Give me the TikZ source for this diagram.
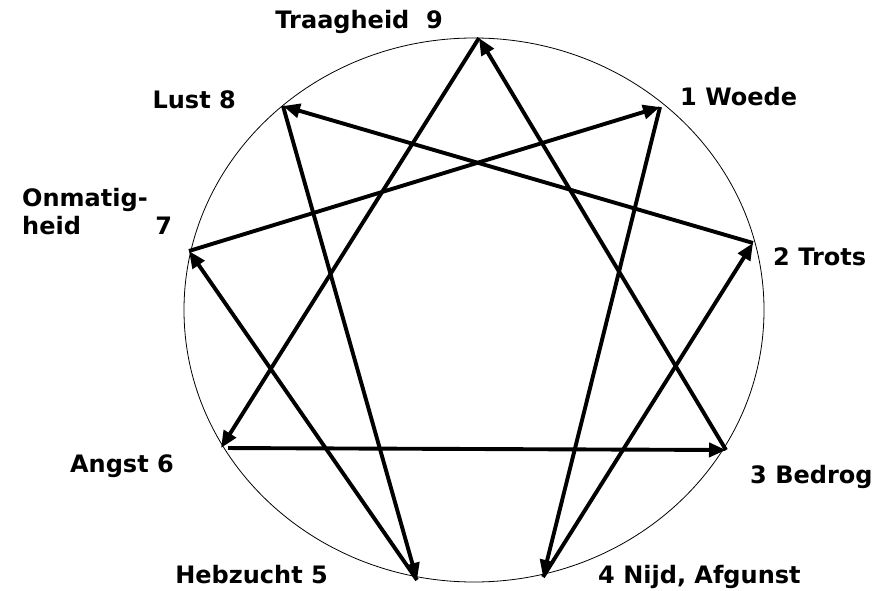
\documentclass[tikz,border=0pt]{standalone}
\usepackage{fontspec}
\setmainfont{DejaVu Sans}
\usetikzlibrary{arrows.meta,positioning,calc}

\begin{document}
\begin{tikzpicture}[
  x=1pt, y=1pt,
  lbl/.style={inner sep=0pt, font=\fontsize{24}{28}\selectfont\bfseries},
  rim/.style={draw, line width=0.8pt},
  arr/.style={-{Triangle[length=17pt, width=14pt]}, line width=3.9pt}
]
\useasboundingbox (0,0) rectangle (880,590);
% the rim and its nine points
\draw[rim] (474,280) ellipse [x radius=290, y radius=272];
\coordinate (p9) at (479,552);
\coordinate (p1) at (660,483);
\coordinate (p2) at (753,347);
\coordinate (p3) at (726,140);
\coordinate (p4) at (543,13);
\coordinate (p5) at (417,10);
\coordinate (p6) at (221,142);
\coordinate (p7) at (189,339);
\coordinate (p8) at (283,484);

\node[lbl, anchor=east] (l9) at (443,568) {Traagheid\ \ 9};
\node[lbl, anchor=west] (l1) at (680,493) {1 Woede};
\node[lbl, anchor=west] (l2) at (773,333) {2 Trots};
\node[lbl, anchor=west] (l3) at (750,113) {3 Bedrog};
\node[lbl, anchor=base west] (l4) at (598,6.5) {4 Nijd, Afgunst};
\node[lbl, anchor=base east] (l5) at (328,6.5) {Hebzucht 5};
\node[lbl, anchor=east] (l6) at (174,124) {Angst 6};
\node[lbl, anchor=north west, align=left] (l7) at (22,402) {Onmatig-\\heid\hspace{3.1em}7};
\node[lbl, anchor=east] (l8) at (236,490) {Lust 8};

% hexad
\draw[arr] (p1) -- (p4);
\draw[arr] (p4) -- (p2);
\draw[arr] (p2) -- (p8);
\draw[arr] (p8) -- (p5);
\draw[arr] (p5) -- (p7);
\draw[arr] (p7) -- (p1);
% triangle
\draw[arr] (p9) -- (p6);
\draw[arr, shorten <=7pt] (p6) -- (p3);
\draw[arr] (p3) -- (p9);
\end{tikzpicture}
\end{document}
